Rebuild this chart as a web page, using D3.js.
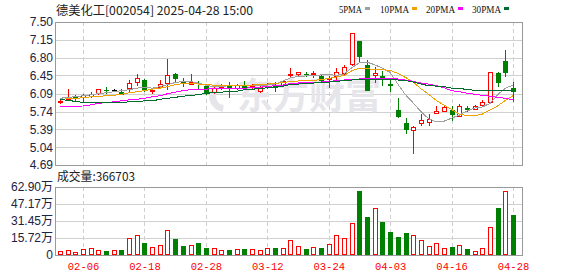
<!DOCTYPE html>
<head>
<meta charset="utf-8">
<style>
  body { margin:0; background:#fff; }
  svg { display:block; }
  .axis path { display:none; }
</style>
</head>
<script src="https://d3js.org/d3.v7.min.js"></script>
<div id="chart"></div>
<script>
// trading days shown on the chart
var dates = ["01-24","01-27","02-05","02-06","02-07","02-10","02-11","02-12","02-13","02-14",
  "02-17","02-18","02-19","02-20","02-21","02-24","02-25","02-26","02-27","02-28",
  "03-03","03-04","03-05","03-06","03-07","03-10","03-11","03-12","03-13","03-14",
  "03-17","03-18","03-19","03-20","03-21","03-24","03-25","03-26","03-27","03-28",
  "03-31","04-01","04-02","04-03","04-07","04-08","04-09","04-10","04-11","04-14",
  "04-15","04-16","04-17","04-18","04-21","04-22","04-23","04-24","04-25","04-28"];

var open  = [5.93,5.98,6.05,6.03,6.05,6.11,6.17,6.16,6.13,6.20, 6.32,6.37,6.14,6.22,6.30,6.48,6.32,6.29,6.31,6.24,
  6.13,6.22,6.24,6.20,6.24,6.22,6.15,6.22,6.24,6.26, 6.46,6.47,6.48,6.48,6.44,6.38,6.43,6.50,6.67,7.13,
  6.66,6.45,6.43,6.28,5.78,5.52,5.38,5.51,5.53,5.72, 5.76,5.77,5.66,5.81,5.80,5.86,5.93,6.49,6.73,6.20];
var high  = [5.96,6.18,6.07,6.08,6.12,6.19,6.22,6.19,6.18,6.36, 6.47,6.38,6.17,6.36,6.77,6.50,6.39,6.47,6.35,6.25,
  6.22,6.28,6.33,6.28,6.35,6.28,6.24,6.30,6.33,6.35, 6.59,6.52,6.51,6.53,6.46,6.43,6.59,6.66,7.28,7.13,
  6.76,6.61,6.54,6.40,6.01,5.61,5.45,5.69,5.69,5.84, 5.87,5.84,5.89,5.85,5.86,5.96,6.51,6.52,6.95,6.32];
var low   = [5.90,5.97,5.95,5.93,6.03,6.09,6.10,6.14,6.09,6.13, 6.26,6.15,6.11,6.20,6.18,6.35,6.24,6.28,6.20,6.09,
  6.11,6.18,6.02,6.19,6.20,6.19,6.13,6.20,6.15,6.25, 6.43,6.43,6.44,6.42,6.35,6.23,6.38,6.47,6.66,6.73,
  6.16,6.33,6.26,6.14,5.64,5.32,4.93,5.48,5.47,5.72, 5.75,5.57,5.65,5.76,5.79,5.85,5.92,6.25,6.43,5.95];
var close = [5.95,6.00,6.00,6.07,6.09,6.18,6.16,6.16,6.09,6.30, 6.39,6.16,6.17,6.28,6.46,6.39,6.30,6.33,6.30,6.10,
  6.20,6.24,6.23,6.26,6.23,6.24,6.23,6.24,6.23,6.34, 6.47,6.51,6.47,6.50,6.36,6.40,6.52,6.62,7.28,6.84,
  6.17,6.50,6.41,6.26,5.65,5.40,5.44,5.57,5.60,5.76, 5.82,5.69,5.85,5.80,5.85,5.93,6.51,6.33,6.51,6.15];

// moving averages
var ma5  = [6.00,6.02,6.03,6.05,6.07,6.09,6.11,6.13,6.15,6.17, 6.20,6.22,6.20,6.23,6.27,6.31,6.33,6.33,6.30,6.26,
  6.23,6.23,6.25,6.26,6.26,6.26,6.26,6.26,6.28,6.34, 6.40,6.43,6.44,6.45,6.46,6.47,6.45,6.48,6.60,6.70,
  6.71,6.66,6.59,6.51,6.28,6.07,5.91,5.74,5.60,5.54, 5.55,5.61,5.67,5.75,5.81,5.83,5.90,6.07,6.20,6.26];
var ma10 = [5.98,5.99,6.00,6.01,6.03,6.04,6.05,6.06,6.08,6.11, 6.13,6.15,6.18,6.20,6.23,6.27,6.29,6.30,6.28,6.27,
  6.26,6.26,6.26,6.26,6.26,6.26,6.27,6.28,6.29,6.31, 6.33,6.34,6.35,6.35,6.37,6.39,6.42,6.45,6.54,6.59,
  6.58,6.57,6.56,6.55,6.49,6.41,6.32,6.19,6.08,5.96, 5.87,5.78,5.69,5.66,5.66,5.69,5.77,5.85,5.96,6.05];
var ma20 = [5.84,5.84,5.84,5.85,5.87,5.90,5.92,5.93,5.95,5.97, 5.98,6.00,6.03,6.05,6.09,6.12,6.15,6.17,6.17,6.18,
  6.19,6.20,6.20,6.20,6.20,6.21,6.22,6.23,6.25,6.26, 6.29,6.30,6.32,6.32,6.32,6.33,6.35,6.36,6.37,6.38,
  6.38,6.39,6.39,6.39,6.38,6.36,6.33,6.30,6.28,6.25, 6.21,6.15,6.13,6.10,6.08,6.06,6.04,6.02,6.00,5.97];
var ma30 = [5.98,5.96,5.94,5.92,5.91,5.91,5.91,5.91,5.92,5.93, 5.93,5.95,5.95,5.98,6.00,6.02,6.04,6.06,6.07,6.10,
  6.11,6.12,6.14,6.14,6.17,6.18,6.19,6.21,6.22,6.24, 6.27,6.28,6.29,6.30,6.31,6.32,6.33,6.35,6.36,6.37,
  6.37,6.37,6.37,6.37,6.36,6.35,6.32,6.28,6.25,6.24, 6.23,6.20,6.20,6.17,6.16,6.16,6.15,6.15,6.16,6.16];

var volume = [37000,43000,25000,55000,62000,43000,37000,43000,46000,154000,
  185000,111000,74000,92500,228000,148000,83000,92500,111000,65000,
  62000,43000,46000,55000,55000,55000,43000,62000,65000,62000,
  136000,80000,55000,71000,65000,99000,182000,157000,293000,592000,
  351000,432000,305000,213000,167000,204000,182000,136000,80000,108000,
  62000,74000,90000,55000,40000,62000,259000,435000,592000,366703];
// volume colour per day as shown (r = up, g = down)
var volDir = ["rrrrrrgrgr","rgrrrggrgg","rrgrgrrrgr","rrgrgrrrrg","grggggrrrr","rgrgrrrgrg"].join("");

var priceTicks  = [7.50,7.15,6.80,6.45,6.09,5.74,5.39,5.04,4.69];
var priceLabels = ["7.50","7.15","6.80","6.45","6.09","5.74","5.39","5.04","4.69"];
var volTicks  = [0,157200,314500,471700,629000];
var volLabels = ["0","15.72万","31.45万","47.17万","62.90万"];
var xTicks = ["02-06","02-18","02-28","03-12","03-24","04-03","04-16","04-28"];

var maNames  = ["5PMA","10PMA","20PMA","30PMA"];
var maColors = ["#a0a0a0","#f0a000","#ff00ff","#006d2c"];
var maSeries = [ma5, ma10, ma20, ma30];

var RED = "#ff0000", GREEN = "#008000";

var W = 578, H = 276;
var left = 55, right = 522, top1 = 22, bot1 = 165, top2 = 187, bot2 = 255;

var svg = d3.select("#chart").append("svg")
  .attr("width", W).attr("height", H);

var x = d3.scalePoint().domain(dates).range([60, 513]);
var y = d3.scaleLinear().domain([4.69, 7.50]).range([bot1, top1]);
var yv = d3.scaleLinear().domain([0, 629000]).range([bot2, top2]);

var px = function(d) { return Math.round(x(d)); };

// grid lines
var grid = svg.append("g").attr("shape-rendering", "crispEdges");
grid.selectAll(".hg").data(priceTicks.slice(1, -1)).enter().append("line")
  .attr("x1", left).attr("x2", right)
  .attr("y1", function(d) { return Math.round(y(d)) + 0.5; })
  .attr("y2", function(d) { return Math.round(y(d)) + 0.5; })
  .attr("stroke", "#d0d0d0");
grid.selectAll(".hv").data(volTicks.slice(1, -1)).enter().append("line")
  .attr("x1", left).attr("x2", right)
  .attr("y1", function(d) { return Math.round(yv(d)) + 0.5; })
  .attr("y2", function(d) { return Math.round(yv(d)) + 0.5; })
  .attr("stroke", "#d0d0d0");
[[top1, bot1], [top2, bot2]].forEach(function(p) {
  grid.selectAll(null).data(xTicks).enter().append("line")
    .attr("x1", function(d) { return px(d) + 0.5; })
    .attr("x2", function(d) { return px(d) + 0.5; })
    .attr("y1", p[0]).attr("y2", p[1])
    .attr("stroke", "#cfcfcf").attr("stroke-dasharray", "4,3");
});

// watermark (logo swoosh + name)
svg.append("path")
  .attr("transform", "translate(225,96)")
  .attr("fill", "#e6e6ea")
  .attr("d", d3.arc().innerRadius(9).outerRadius(16).startAngle(-3.0).endAngle(-0.4)());
svg.append("text")
  .attr("x", 237).attr("y", 109)
  .attr("font-family", "Noto Sans CJK SC").attr("font-weight", "bold")
  .attr("font-size", 36).attr("fill", "#e6e6ea")
  .text("东方财富");

// candles
var candles = svg.append("g").attr("shape-rendering", "crispEdges");
dates.forEach(function(d, i) {
  var o = open[i], c = close[i];
  var col = c > o ? RED : (c < o ? GREEN : "#000");
  var cx = px(d);
  candles.append("line")
    .attr("x1", cx + 0.5).attr("x2", cx + 0.5)
    .attr("y1", Math.round(y(high[i]))).attr("y2", Math.round(y(low[i])) + 1)
    .attr("stroke", col);
  var yt = Math.round(y(Math.max(o, c))), yb = Math.round(y(Math.min(o, c)));
  if (c > o) {
    candles.append("rect")
      .attr("x", cx - 2 + 0.5).attr("y", yt + 0.5)
      .attr("width", 4).attr("height", Math.max(1, yb - yt))
      .attr("fill", "#fff").attr("stroke", RED);
  } else {
    candles.append("rect")
      .attr("x", cx - 2).attr("y", yt)
      .attr("width", 5).attr("height", Math.max(1, yb - yt + 1))
      .attr("fill", col);
  }
});

// moving average lines
maSeries.forEach(function(s, k) {
  svg.append("path")
    .datum(s)
    .attr("fill", "none")
    .attr("stroke", maColors[k])
    .attr("stroke-width", 1)
    .attr("shape-rendering", "crispEdges")
    .attr("d", d3.line()
      .x(function(v, i) { return x(dates[i]); })
      .y(function(v) { return y(v); }));
});

// volume bars
var vols = svg.append("g").attr("shape-rendering", "crispEdges");
dates.forEach(function(d, i) {
  var cx = px(d), yt = Math.round(yv(volume[i]));
  if (volDir[i] === "r") {
    vols.append("rect")
      .attr("x", cx - 2 + 0.5).attr("y", yt + 0.5)
      .attr("width", 4).attr("height", bot2 - yt - 1)
      .attr("fill", "#fff").attr("stroke", RED);
  } else {
    vols.append("rect")
      .attr("x", cx - 2).attr("y", yt)
      .attr("width", 5).attr("height", bot2 - yt)
      .attr("fill", GREEN);
  }
});

// panel borders
[[top1, bot1], [top2, bot2]].forEach(function(p) {
  svg.append("rect")
    .attr("x", left + 0.5).attr("y", p[0] + 0.5)
    .attr("width", right - left).attr("height", p[1] - p[0])
    .attr("fill", "none").attr("stroke", "#999")
    .attr("shape-rendering", "crispEdges");
});

// axes
var axisFont = "'Liberation Sans','Noto Sans CJK SC',sans-serif";
svg.append("g").attr("class", "axis")
  .attr("transform", "translate(" + left + ",0)")
  .call(d3.axisLeft(y).tickValues(priceTicks).tickSize(0).tickPadding(2)
    .tickFormat(function(d, i) { return priceLabels[i]; }))
  .call(function(g) {
    g.selectAll("text").attr("font-family", axisFont).attr("font-size", 12).attr("fill", "#1c2240");
  });
svg.append("g").attr("class", "axis")
  .attr("transform", "translate(" + left + ",0)")
  .call(d3.axisLeft(yv).tickValues(volTicks).tickSize(0).tickPadding(2)
    .tickFormat(function(d, i) { return volLabels[i]; }))
  .call(function(g) {
    g.selectAll("text").attr("font-family", axisFont).attr("font-size", 12).attr("fill", "#1c2240");
  });
svg.append("g").attr("class", "axis")
  .attr("transform", "translate(0," + bot2 + ")")
  .call(d3.axisBottom(x).tickValues(xTicks).tickSize(0).tickPadding(8))
  .call(function(g) {
    g.selectAll("text").attr("font-family", "'Liberation Mono',monospace")
      .attr("font-size", 10.5).attr("fill", RED);
  });

// title
svg.append("text")
  .attr("x", 56).attr("y", 15)
  .attr("font-family", "'Noto Sans CJK SC',sans-serif").attr("font-size", 12)
  .attr("fill", "#222").attr("textLength", 197).attr("lengthAdjust", "spacingAndGlyphs")
  .text("德美化工[002054] 2025-04-28 15:00");

// legend
var legendX = [362, 409, 455, 501];
maNames.forEach(function(n, k) {
  svg.append("text")
    .attr("x", legendX[k]).attr("y", 13).attr("text-anchor", "end")
    .attr("font-family", "'Liberation Serif',serif").attr("font-size", 11)
    .attr("fill", "#111")
    .attr("textLength", k === 0 ? 23 : 29).attr("lengthAdjust", "spacingAndGlyphs")
    .text(n);
  svg.append("rect")
    .attr("x", legendX[k] + 3).attr("y", 7)
    .attr("width", 5).attr("height", 3)
    .attr("fill", maColors[k]);
});

// volume caption
svg.append("text")
  .attr("x", 57).attr("y", 181)
  .attr("font-family", "'Noto Sans CJK SC',sans-serif").attr("font-size", 12)
  .attr("fill", "#222").attr("textLength", 78).attr("lengthAdjust", "spacingAndGlyphs")
  .text("成交量:" + volume[volume.length - 1]);
</script>
